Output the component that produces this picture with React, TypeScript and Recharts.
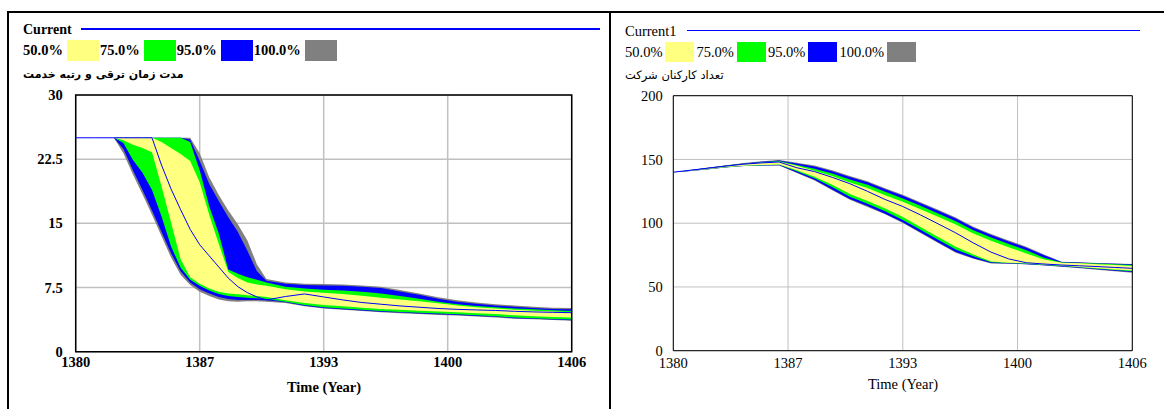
import React from "react";
import {
  ComposedChart,
  Area,
  Line,
  XAxis,
  YAxis,
  CartesianGrid,
  ReferenceArea,
} from "recharts";

// sensitivity run: percentile envelopes + base run ("Current")
const YEAR_TICKS = [1380, 1386.5, 1393, 1399.5, 1406];
const PCT_LABELS = ["50.0%", "75.0%", "95.0%", "100.0%"];
const BAND_COLORS = ["#ffff80", "#00ff00", "#0000ff", "#808080"];

// left panel: promotion time
const L_TITLE = "Current";
const L_VAR = "مدت زمان ترقی و رتبه خدمت";
const L_YTICKS = [0, 7.5, 15, 22.5, 30];
const L_T = [
  1380, 1381, 1382, 1382.5, 1383, 1383.5, 1384, 1384.5, 1385, 1385.5, 1386,
  1386.5, 1387, 1387.5, 1388, 1388.5, 1389, 1389.5, 1390, 1391, 1392, 1393,
  1394, 1395, 1396, 1397, 1398, 1399, 1400, 1401, 1402, 1403, 1404, 1405, 1406,
];
const L_MIN = [
  25, 25, 25, 23.2, 20.7, 18.4, 16.0, 13.5, 11.0, 9.0, 7.8, 7.0, 6.5, 6.1, 5.9,
  5.85, 5.9, 5.9, 5.85, 5.7, 5.3, 5.05, 4.9, 4.75, 4.6, 4.5, 4.4, 4.3, 4.22,
  4.1, 4.0, 3.85, 3.78, 3.7, 3.62,
];
const L_P2 = [
  25, 25, 25, 23.7, 21.2, 18.9, 16.5, 14.0, 11.5, 9.4, 8.1, 7.3, 6.8, 6.4, 6.15,
  6.05, 6.05, 6.05, 6.0, 5.78, 5.38, 5.12, 4.97, 4.82, 4.67, 4.57, 4.47, 4.37,
  4.29, 4.17, 4.07, 3.92, 3.84, 3.76, 3.68,
];
const L_P12 = [
  25, 25, 25, 24.4, 22.4, 20.9, 18.9, 15.8, 12.3, 9.8, 8.4, 7.7, 7.15, 6.75,
  6.5, 6.4, 6.3, 6.25, 6.15, 5.85, 5.45, 5.2, 5.05, 4.9, 4.75, 4.65, 4.55,
  4.45, 4.37, 4.25, 4.15, 4.0, 3.92, 3.83, 3.75,
];
const L_P25 = [
  25, 25, 25, 24.7, 24.2, 23.8, 23.3, 19.3, 15.1, 10.8, 8.7, 7.95, 7.4, 7.0,
  6.8, 6.7, 6.6, 6.5, 6.4, 6.0, 5.7, 5.45, 5.3, 5.15, 5.0, 4.9, 4.8, 4.7, 4.6,
  4.5, 4.4, 4.25, 4.15, 4.05, 4.0,
];
const L_P75 = [
  25, 25, 25, 25, 25, 25, 25, 24.5, 23.8, 23.1, 22.3, 19.8, 16.0, 12.6, 9.3,
  8.6, 8.1, 7.85, 7.7, 7.3, 7.05, 6.9, 6.75, 6.55, 6.3, 6.1, 5.9, 5.65, 5.4,
  5.2, 5.05, 4.9, 4.8, 4.7, 4.62,
];
const L_P87 = [
  25, 25, 25, 25, 25, 25, 25, 25, 25, 25, 24.5, 21.2, 17.0, 13.8, 9.6, 9.1, 8.7,
  8.4, 8.1, 7.6, 7.4, 7.25, 7.15, 7.0, 6.8, 6.5, 6.2, 5.85, 5.55, 5.35, 5.2,
  5.05, 4.95, 4.85, 4.75,
];
const L_P97 = [
  25, 25, 25, 25, 25, 25, 25, 25, 25, 25, 24.8, 22.3, 19.6, 17.6, 15.7, 14.0,
  11.8, 9.4, 8.3, 7.95, 7.8, 7.75, 7.7, 7.6, 7.45, 7.05, 6.65, 6.2, 5.85, 5.6,
  5.4, 5.25, 5.1, 5.0, 4.95,
];
const L_MAX = [
  25, 25, 25, 25, 25, 25, 25, 25, 25, 25, 25, 23.2, 20.4, 18.3, 16.5, 14.9,
  13.0, 10.2, 8.5, 8.1, 7.95, 7.9, 7.85, 7.75, 7.6, 7.2, 6.8, 6.35, 6.0, 5.75,
  5.55, 5.4, 5.25, 5.15, 5.1,
];
const L_CUR = [
  25, 25, 25, 25, 25, 25, 25, 21.8, 19.0, 16.6, 14.3, 12.5, 11.2, 9.9, 8.6, 7.6,
  6.9, 6.4, 6.05, 6.45, 6.75, 6.4, 6.05, 5.75, 5.55, 5.35, 5.2, 5.05, 4.95,
  4.88, 4.82, 4.72, 4.65, 4.6, 4.56,
];

// right panel: number of employees
const R_TITLE = "Current1";
const R_VAR = "تعداد کارکنان شرکت";
const R_YTICKS = [0, 50, 100, 150, 200];
const R_T = [
  1380, 1381, 1382, 1383, 1384, 1385, 1386, 1387, 1388, 1389, 1390, 1391, 1392,
  1393, 1394, 1395, 1396, 1397, 1398, 1399, 1400, 1401, 1402, 1403, 1404, 1405,
  1406,
];
const R_MIN = [
  140, 140.9, 142.3, 143.7, 144.8, 145.2, 145.2, 139.3, 133.4, 125.9, 118.4,
  112.7, 107.0, 100.1, 92.3, 84.5, 76.8, 72.2, 68.4, 68.2, 67.8, 66.9, 65.9,
  64.7, 63.5, 62.3, 61.2,
];
const R_P2 = [
  140, 141.0, 142.4, 143.8, 144.9, 145.3, 145.4, 139.8, 134.0, 126.5, 119.0,
  113.4, 107.5, 100.7, 92.9, 85.1, 77.4, 72.6, 68.7, 68.4, 67.9, 67.0, 66.1,
  65.0, 63.8, 62.7, 61.7,
];
const R_P12 = [
  140, 141.1, 142.5, 143.9, 145.0, 145.5, 145.8, 140.8, 135.3, 128.3, 120.8,
  115.2, 109.3, 102.6, 94.8, 87.0, 79.3, 74.0, 69.3, 68.7, 68.2, 67.3, 66.5,
  65.4, 64.2, 63.2, 62.4,
];
const R_P25 = [
  140, 141.2, 142.6, 144.0, 145.1, 145.7, 146.0, 141.6, 136.5, 130.2, 123.0,
  117.4, 111.5, 104.8, 97.0, 89.2, 81.5, 75.5, 70.0, 69.0, 68.5, 67.6, 66.8,
  65.7, 64.6, 63.7, 63.0,
];
const R_P75 = [
  140, 141.5, 143.0, 144.7, 146.3, 147.4, 148.2, 145.0, 141.2, 137.0, 132.0,
  127.6, 122.0, 116.8, 111.0, 105.0, 99.0, 91.9, 86.2, 81.2, 76.3, 71.5, 69.0,
  68.5, 67.9, 67.3, 66.5,
];
const R_P87 = [
  140, 141.6, 143.2, 145.0, 146.6, 147.8, 148.7, 145.6, 142.8, 139.0, 134.3,
  130.2, 124.6, 119.4, 113.6, 107.6, 101.6, 94.4, 88.7, 83.7, 78.7, 73.0, 69.2,
  68.8, 68.3, 67.8, 67.2,
];
const R_P97 = [
  140, 141.7, 143.4, 145.2, 146.9, 148.2, 149.2, 146.9, 144.5, 140.8, 136.2,
  132.2, 126.7, 121.5, 115.7, 109.7, 103.7, 96.5, 90.7, 85.7, 80.7, 74.8, 69.5,
  69.1, 68.6, 68.2, 67.8,
];
const R_MAX = [
  140, 141.8, 143.6, 145.4, 147.2, 148.5, 149.6, 147.5, 145.2, 141.5, 137,
  133, 127.5, 122.3, 116.5, 110.5, 104.5, 97.3, 91.5, 86.5, 81.5, 75.5, 69.8,
  69.3, 68.8, 68.4, 68.0,
];
const R_CUR = [
  140, 141.6, 143.2, 144.8, 146.3, 147.3, 148.0, 143.5, 140.5, 136, 131, 125,
  118.6, 113.1, 106.5, 99.5, 92.4, 84.5, 77.3, 72, 69.0, 68.0, 67.2, 66.6, 66.0,
  65.3, 64.6,
];

function buildRows(
  t: number[],
  lo: number[][],
  hi: number[][],
  cur: number[]
) {
  return t.map((x, i) => ({
    t: x,
    b100: [lo[0][i], hi[0][i]],
    b95: [lo[1][i], hi[1][i]],
    b75: [lo[2][i], hi[2][i]],
    b50: [lo[3][i], hi[3][i]],
    cur: cur[i],
  }));
}

const leftRows = buildRows(
  L_T,
  [L_MIN, L_P2, L_P12, L_P25],
  [L_MAX, L_P97, L_P87, L_P75],
  L_CUR
);
const rightRows = buildRows(
  R_T,
  [R_MIN, R_P2, R_P12, R_P25],
  [R_MAX, R_P97, R_P87, R_P75],
  R_CUR
);

type ChartProps = {
  rows: any[];
  yMax: number;
  yTicks: number[];
  x: number;
  width: number;
  axisW: number;
  plotTop: number;
  plotBottom: number;
  rightPad: number;
  font: React.CSSProperties;
  xTickMargin: number;
  yTickMargin: number;
  gridW: number;
  frameW: number;
};

function BandChart(p: ChartProps) {
  const H = 409;
  const xAxisH = 20;
  const tick = {
    fill: "#000",
    fontFamily: p.font.fontFamily as string,
    fontSize: p.font.fontSize as number,
    fontWeight: p.font.fontWeight as any,
  };
  return (
    <div style={{ position: "absolute", left: p.x, top: 0 }}>
      <ComposedChart
        width={p.width}
        height={H}
        data={p.rows}
        margin={{
          top: p.plotTop,
          right: p.rightPad,
          left: 0,
          bottom: H - p.plotBottom - xAxisH,
        }}
      >
        <XAxis
          dataKey="t"
          type="number"
          domain={[1380, 1406]}
          ticks={YEAR_TICKS}
          interval={0}
          tickFormatter={(v) => String(Math.round(v))}
          axisLine={false}
          tickLine={false}
          tickSize={0}
          tickMargin={p.xTickMargin}
          height={xAxisH}
          tick={tick}
        />
        <YAxis
          type="number"
          domain={[0, p.yMax]}
          ticks={p.yTicks}
          interval={0}
          width={p.axisW}
          axisLine={false}
          tickLine={false}
          tickSize={0}
          tickMargin={p.yTickMargin}
          tick={tick}
        />
        {["b100", "b95", "b75", "b50"].map((k, i) => (
          <Area
            key={k}
            type="linear"
            dataKey={k}
            fill={BAND_COLORS[3 - i]}
            fillOpacity={1}
            stroke="none"
            dot={false}
            activeDot={false}
            isAnimationActive={false}
          />
        ))}
        <CartesianGrid stroke="#c0c0c0" strokeWidth={p.gridW} />
        <Line
          type="linear"
          dataKey="cur"
          stroke="#0000ff"
          strokeWidth={1}
          dot={false}
          activeDot={false}
          isAnimationActive={false}
        />
        <ReferenceArea
          x1={1380}
          x2={1406}
          y1={0}
          y2={p.yMax}
          fill="none"
          stroke="#000"
          strokeWidth={p.frameW}
          ifOverflow="visible"
        />
      </ComposedChart>
    </div>
  );
}

function Legend({
  x,
  top,
  h,
  swW,
  gapL,
  gapR,
  font,
}: {
  x: number;
  top: number;
  h: number;
  swW: number;
  gapL: number;
  gapR: number;
  font: React.CSSProperties;
}) {
  return (
    <div
      style={{
        position: "absolute",
        left: x,
        top,
        height: h,
        display: "flex",
        alignItems: "center",
        whiteSpace: "nowrap",
        ...font,
      }}
    >
      {PCT_LABELS.map((lab, i) => (
        <React.Fragment key={lab}>
          <span style={{ lineHeight: h + "px" }}>{lab}</span>
          <span
            style={{
              display: "inline-block",
              width: swW,
              height: h,
              marginLeft: gapL,
              marginRight: gapR,
              background: BAND_COLORS[i],
            }}
          />
        </React.Fragment>
      ))}
    </div>
  );
}

const abs = (l: number, t: number, extra: React.CSSProperties = {}) =>
  ({ position: "absolute", left: l, top: t, whiteSpace: "nowrap", ...extra } as React.CSSProperties);

export default function App() {
  const lFont: React.CSSProperties = {
    fontFamily: "'Liberation Serif', serif",
    fontSize: 14.5,
    fontWeight: 700,
    color: "#000",
  };
  const rFont: React.CSSProperties = {
    fontFamily: "'Liberation Serif', serif",
    fontSize: 14.5,
    fontWeight: 400,
    color: "#000",
  };
  return (
    <div
      style={{
        position: "fixed",
        left: 0,
        top: 0,
        width: 1164,
        height: 409,
        background: "#fff",
        overflow: "hidden",
      }}
    >
      {/* outer frame */}
      <div style={{ position: "absolute", left: 7, top: 11, width: 1157, height: 2, background: "#000" }} />
      <div style={{ position: "absolute", left: 7, top: 11, width: 2, height: 398, background: "#000" }} />
      <div style={{ position: "absolute", left: 609, top: 11, width: 2, height: 398, background: "#000" }} />

      {/* left panel */}
      <div style={abs(23, 21, { ...lFont, fontSize: 14, lineHeight: "17px" })}>{L_TITLE}</div>
      <div style={{ position: "absolute", left: 81, top: 28, width: 519, height: 1.5, background: "#0000ff" }} />
      <Legend x={23} top={40} h={21} swW={32} gapL={4} gapR={1} font={lFont} />
      <div
        dir="rtl"
        style={abs(23, 66, {
          fontFamily: "'DejaVu Sans', sans-serif",
          fontSize: 11,
          fontWeight: 700,
          lineHeight: "18px",
        })}
      >
        {L_VAR}
      </div>
      <BandChart
        rows={leftRows}
        yMax={30}
        yTicks={L_YTICKS}
        x={0}
        width={600}
        axisW={75.7}
        plotTop={95}
        plotBottom={351.7}
        rightPad={28.3}
        font={lFont}
        xTickMargin={5}
        yTickMargin={13}
        gridW={1.5}
        frameW={1.5}
      />
      <div style={abs(286, 379, { ...lFont, lineHeight: "17px", width: 76, textAlign: "center" })}>
        Time (Year)
      </div>

      {/* right panel */}
      <div style={abs(625, 23, { ...rFont, lineHeight: "17px" })}>{R_TITLE}</div>
      <div style={{ position: "absolute", left: 687, top: 29.5, width: 453, height: 1, background: "#0000ff" }} />
      <Legend x={625} top={42} h={20} swW={29} gapL={3} gapR={2} font={rFont} />
      <div
        dir="rtl"
        style={abs(625, 67, {
          fontFamily: "'DejaVu Sans', sans-serif",
          fontSize: 11.5,
          lineHeight: "17px",
        })}
      >
        {R_VAR}
      </div>
      <BandChart
        rows={rightRows}
        yMax={200}
        yTicks={R_YTICKS}
        x={610}
        width={554}
        axisW={63.3}
        plotTop={95.7}
        plotBottom={350.7}
        rightPad={31.7}
        font={rFont}
        xTickMargin={7}
        yTickMargin={10.5}
        gridW={1}
        frameW={1}
      />
      <div style={abs(863, 376, { ...rFont, lineHeight: "17px", width: 80, textAlign: "center" })}>
        Time (Year)
      </div>
    </div>
  );
}
